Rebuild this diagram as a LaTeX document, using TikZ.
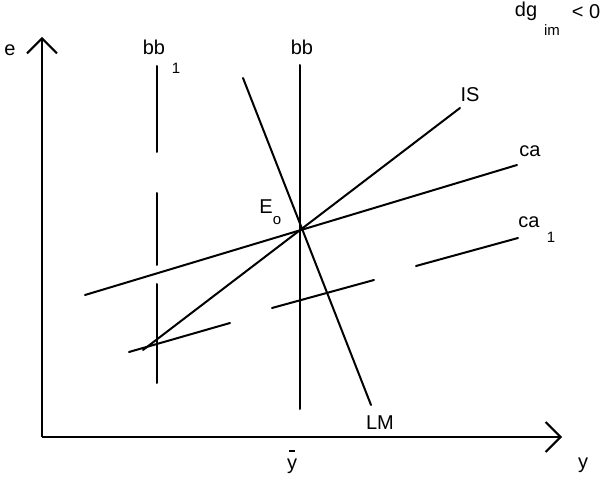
\documentclass[tikz,border=0pt]{standalone}
\usepackage{fontspec}
\setmainfont{Liberation Sans}
\usetikzlibrary{arrows.meta}
\tikzset{
  curve/.style={line width=2pt, line cap=round},
  axis/.style={line width=1.7pt, -{Straight Barb[length=15pt,width=30pt,line width=2pt]}},
  lbl/.style={inner sep=0pt, font=\fontsize{20}{20}\selectfont},
  sub/.style={inner sep=0pt, font=\fontsize{15}{15}\selectfont},
}
\begin{document}
\begin{tikzpicture}[x=1pt,y=-1pt]
\useasboundingbox (0,0) rectangle (600,478);
% axes
\coordinate (O) at (42,437);
\coordinate (Etip) at (42,37);
\coordinate (Ytip) at (562,437);
\draw[axis] (O) -- (Etip);
\draw[axis] (O) -- (Ytip);
% bb
\coordinate (bbT) at (300,65);
\coordinate (bbB) at (300,409);
\draw[curve] (bbT) -- (bbB);
% bb1 dashed
\coordinate (b1a) at (157,66);
\coordinate (b1b) at (157,152);
\coordinate (b1c) at (157,193);
\coordinate (b1d) at (157,265);
\coordinate (b1e) at (157,284);
\coordinate (b1f) at (157,383);
\draw[curve] (b1a) -- (b1b) (b1c) -- (b1d) (b1e) -- (b1f);
% ca
\coordinate (caL) at (85,295);
\coordinate (caR) at (517,165);
\draw[curve] (caL) -- (caR);
% ca1 dashed
\coordinate (c1a) at (129,352);
\coordinate (c1b) at (230,323);
\coordinate (c1c) at (272,308);
\coordinate (c1d) at (374,280);
\coordinate (c1e) at (416,266);
\coordinate (c1f) at (518,238);
\draw[curve] (c1a) -- (c1b) (c1c) -- (c1d) (c1e) -- (c1f);
% IS
\coordinate (isL) at (143,350);
\coordinate (isR) at (460,108);
\draw[curve] (isL) -- (isR);
% LM
\coordinate (lmT) at (243,78);
\coordinate (lmB) at (371,405);
\draw[curve] (lmT) -- (lmB);
% labels
\node[lbl] (le) at (10,50) {e};
\node[lbl] (lbb) at (302,47) {bb};
\node[lbl] (lbb1) at (154,47) {bb};
\node[sub] (lbb1s) at (176,68) {1};
\node[lbl] (lIS) at (470,95) {IS};
\node[lbl] (lca) at (530,151) {ca};
\node[lbl] (lca1) at (529,222) {ca};
\node[sub] (lca1s) at (551,237) {1};
\node[lbl] (lE) at (266,207) {E};
\node[sub] (lEs) at (277,221) {o};
\node[lbl] (lLM) at (380,423) {LM};
\node[lbl] (ly) at (292,466) {y};
\coordinate (barL) at (289,451);
\coordinate (barR) at (295,451);
\draw[line width=1.6pt] (barL) -- (barR);
\node[lbl] (lyax) at (583,465) {y};
\node[lbl] (ldg) at (526,11) {dg};
\node[sub] (lim) at (552,30) {im};
\node[lbl] (llt) at (586,12) {< 0};
\end{tikzpicture}
\end{document}
